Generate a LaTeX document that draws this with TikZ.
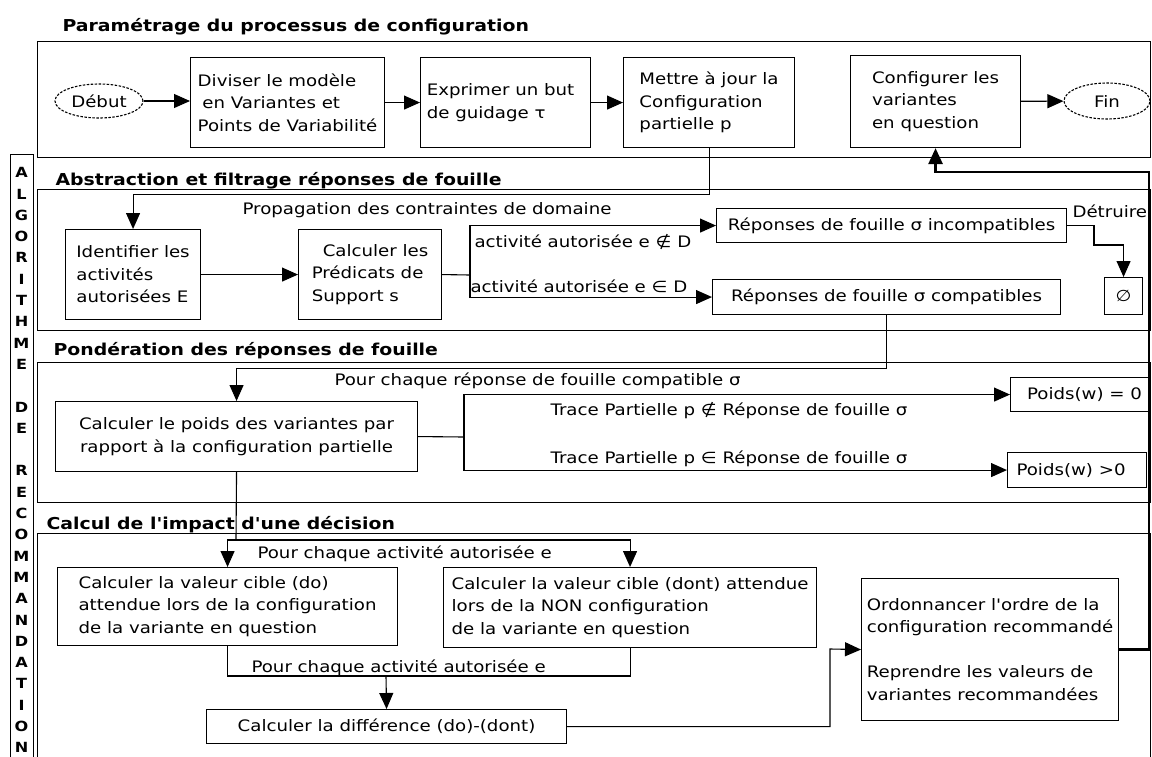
\documentclass[tikz,border=0pt]{standalone}
\usepackage{fontspec}
\newfontfamily\police{DejaVu Sans}[FakeStretch=1.15]
\usetikzlibrary{arrows.meta, shapes.geometric}

\begin{document}
\begin{tikzpicture}[x=1pt, y=-1pt, >={Triangle[length=16pt,width=14pt]}, line width=1.1pt,
  every node/.style={font=\police\fontsize{15.8}{22.5}\selectfont},
  bloc/.style={draw, rectangle, anchor=north west, inner ysep=0pt, align=left},
  ovale/.style={draw, ellipse, dash pattern=on 2.5pt off 1.5pt, inner sep=0pt},
  titre/.style={anchor=base west, inner sep=0pt, font=\police\fontsize{16.4}{20}\selectfont\bfseries},
  legende/.style={anchor=base west, inner sep=0pt},
  cadre/.style={line width=0.9pt},
  epais/.style={line width=2.6pt}]

  \useasboundingbox (0,0) rectangle (1152,756);

  % cadres des quatre etapes
  \draw[cadre] (37,41) rectangle (1150,157);
  \draw[cadre] (37,189) rectangle (1150,330);
  \draw[cadre] (37,362) rectangle (1150,502);
  \draw[cadre] (37,757) |- (1150,533) -- (1150,757);
  \draw[cadre] (10,757) |- (33,154) -- (33,757);

  \node[anchor=north, inner sep=0pt, align=center, font=\police\fontsize{14}{21.3}\selectfont\bfseries] (sigle) at (21.5,167)
    {A\\L\\G\\O\\R\\I\\T\\H\\M\\E\\~\\D\\E\\~\\R\\E\\C\\O\\M\\M\\A\\N\\D\\A\\T\\I\\O\\N};

  \node[titre] (titreparam) at (62,31) {Paramétrage du processus de configuration};
  \node[titre] (titreabstr) at (55,185) {Abstraction et filtrage réponses de fouille};
  \node[titre] (titreponder) at (53,355) {Pondération des réponses de fouille};
  \node[titre] (titreimpact) at (46,529) {Calcul de l'impact d'une décision};

  % parametrage
  \node[ovale, minimum width=88pt, minimum height=34pt] (debut) at (99,101) {Début};
  \node[bloc, minimum width=194pt, minimum height=90pt] (diviser) at (190,57) {Diviser le modèle\\\hspace*{0.3em}en Variantes et\\Points de Variabilité};
  \node[bloc, minimum width=170pt, minimum height=90pt] (exprimer) at (420,57) {Exprimer un but\hspace*{10pt}\\de guidage τ};
  \node[bloc, minimum width=171pt, minimum height=90pt] (mettre) at (623,57) {Mettre à jour la\\Configuration\\partielle p};
  \node[bloc, minimum width=170pt, minimum height=92pt] (configurer) at (850,55) {Configurer les\\variantes\\en question};
  \node[ovale, minimum width=86pt, minimum height=36pt] (fin) at (1107,101) {Fin};

  % abstraction et filtrage
  \node[bloc, minimum width=135pt, minimum height=90pt] (identifier) at (65,229) {Identifier les\\activités\\autorisées E};
  \node[bloc, minimum width=143pt, minimum height=90pt] (predicats) at (298,229) {\hspace*{11pt}Calculer les\\Prédicats de\\Support s};
  \node[bloc, minimum width=350pt, minimum height=34pt] (incompat) at (716,208) {Réponses de fouille σ incompatibles};
  \node[bloc, minimum width=348pt, minimum height=35pt] (compat) at (712,279) {Réponses de fouille σ compatibles};
  \node[bloc, minimum width=38pt, minimum height=37pt, align=center] (vide) at (1104,277) {∅};
  \node[legende] (propagation) at (242,214) {Propagation des contraintes de domaine};
  \node[legende] (horsD) at (474,247) {activité autorisée e ∉ D};
  \node[legende] (dansD) at (470,292) {activité autorisée e ∈ D};
  \node[legende] (detruire) at (1072,217) {Détruire};

  % ponderation
  \node[bloc, minimum width=362pt, minimum height=70pt, align=center] (poids) at (55,401) {Calculer le poids des variantes par\\rapport à la configuration partielle};
  \node[bloc, minimum width=138pt, minimum height=34pt] (poidsnul) at (1010,377) {\hspace*{10pt}Poids(w) = 0};
  \node[bloc, minimum width=139pt, minimum height=35pt] (poidspos) at (1007,452) {Poids(w) >0\hspace*{12pt}};
  \node[legende] (chaquerep) at (334,385) {Pour chaque réponse de fouille compatible σ};
  \node[legende] (tracehors) at (550,415) {Trace Partielle p ∉ Réponse de fouille σ};
  \node[legende] (tracedans) at (550,463) {Trace Partielle p ∈ Réponse de fouille σ};

  % impact d'une decision
  \node[bloc, minimum width=340pt, minimum height=78pt] (cibledo) at (57,567) {Calculer la valeur cible (do)\\attendue lors de la configuration\\de la variante en question};
  \node[bloc, minimum width=373pt, minimum height=80pt] (cibledont) at (443,567) {Calculer la valeur cible (dont) attendue\\lors de la NON configuration\\de la variante en question};
  \node[bloc, minimum width=360pt, minimum height=34pt] (difference) at (206,709) {Calculer la différence (do)-(dont)};
  \node[bloc, minimum width=257pt, minimum height=142pt] (ordonner) at (861,578) {Ordonnancer l'ordre de la\\configuration recommandé\\[22.5pt]Reprendre les valeurs de\\variantes recommandées};
  \node[legende] (chaqueact) at (257,558) {Pour chaque activité autorisée e};
  \node[legende] (chaqueactbis) at (251,672) {Pour chaque activité autorisée e};

  \coordinate (fourcheA) at (470,275);
  \coordinate (coudeB) at (1094,245);
  \coordinate (fourcheB) at (464,437);
  \coordinate (partage) at (236,540);
  \coordinate (jonction) at (386,676);
  \coordinate (coudeC) at (830,649);
  \coordinate (retour) at (1149,172);

  \path[->]
  (debut.east) edge (debut.east -| diviser.west)
  (diviser) edge (exprimer)
  (exprimer) edge (mettre)
  (configurer) edge (fin)
  (identifier) edge (predicats)
  ;

  \draw[->] (mettre.south) -- ++(0,46) -| (identifier.north);
  \draw (predicats.east) -- (fourcheA);
  \draw[->] (fourcheA) |- (incompat.west);
  \draw[->] (fourcheA) |- (compat.west);
  \draw[->] (incompat.east) -| (coudeB) -| (vide.north);
  \draw[->] (compat.south) -- ++(0,53) -| (poids.north);
  \draw (poids.east) -- (fourcheB);
  \draw[->] (fourcheB) |- (poidsnul.west);
  \draw[->] (fourcheB) |- (poidspos.west);
  \draw (poids.south) -- (partage);
  \draw[->] (partage) -| (cibledo.north);
  \draw[->] (partage) -| (cibledont.north);
  \draw (cibledo.south) |- (jonction) -| (cibledont.south);
  \draw[->] (jonction) -- (difference.north);
  \draw[->] (difference.east) -| (coudeC) -- (ordonner.west);
  \draw[->, epais] (ordonner.east) -| (retour) -| (configurer.south);
\end{tikzpicture}
\end{document}
